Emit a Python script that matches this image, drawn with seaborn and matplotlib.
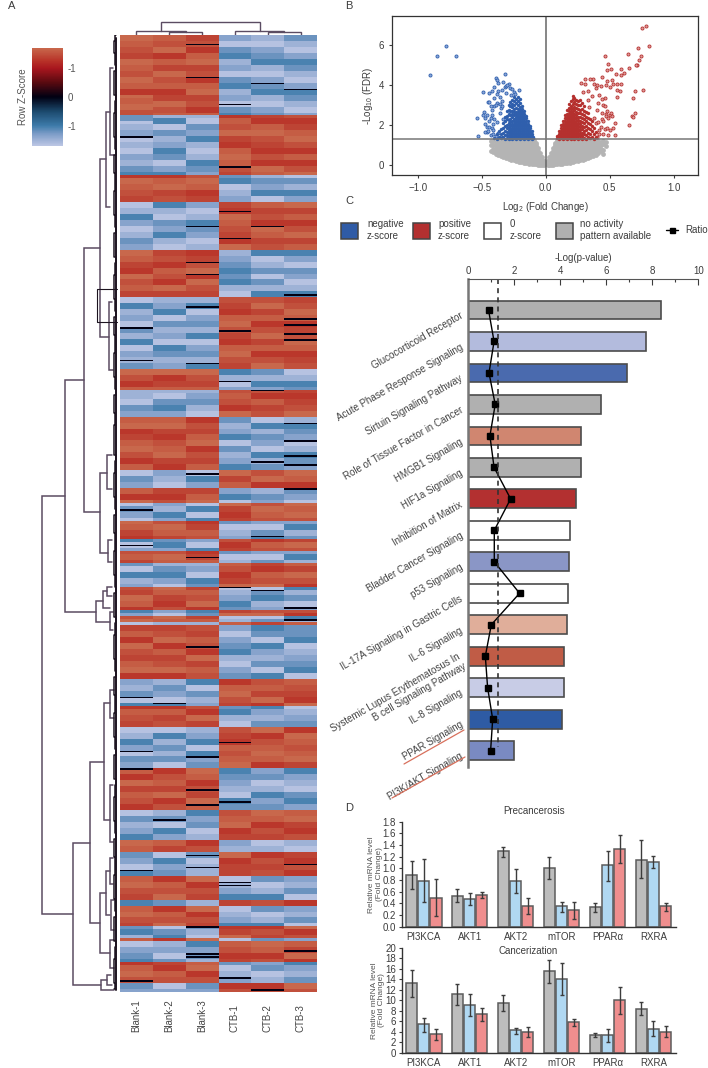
import matplotlib
matplotlib.use("Agg")
import matplotlib.pyplot as plt
from matplotlib.colors import LinearSegmentedColormap
from matplotlib.lines import Line2D
from matplotlib.patches import Rectangle
from matplotlib.ticker import MultipleLocator
import numpy as np
import pandas as pd
import seaborn as sns

# ==========================================
# PANEL A DATA (heatmap)
# ==========================================

SAMPLES = ["Blank-1", "Blank-2", "Blank-3", "CTB-1", "CTB-2", "CTB-3"]

# rows per gene cluster, clusters alternate Blank-high / Blank-low from the top
BLOCK_ROWS = [27, 20, 9, 16, 16, 24, 7, 9, 18, 6, 5, 6, 6, 4, 4, 8, 8, 2, 2, 1,
              18, 9, 7, 14, 14, 10, 4, 8, 8, 2, 7, 4, 1, 7, 7, 3]

# magnitude level of each row, 1 = weak ... 5 = strong
COL_BLANK_1 = (
    "5544332255443355441154455332254433554455"
    "3344221155443322554411335544223355442211"
    "5533442255114433552244115533442255331144"
    "4455223344551122445533114455223344115522"
    "3355442211553344225511443322554411335522"
    "4411553322445511334422551144332255441133"
    "5522334411552244331155224433115544223355"
    "1144553322114455332211445533221144553322"
)
COL_BLANK_2 = (
    "4433551144225533441122553344115522443311"
    "2255331144552233114455223311445522331144"
    "3311552244331155224433551122443355112244"
    "5522113344552211334455221133445522113344"
    "1133554422113355442211335544221133554422"
    "3355114422335511442233551144223355114422"
    "4422551133442255113344225511334422551133"
    "2211443355221144335522114433552211443355"
)
COL_BLANK_3 = (
    "2233114455223311445522331144552233114455"
    "4411223355441122335544112233554411223355"
    "1155332244115533224411553322441155332244"
    "3322445511332244551133224455113322445511"
    "5511224433551122443355112244335511224433"
    "2244331155224433115522443311552244331155"
    "1133225544113322554411332255441133225544"
    "4455113322445511332244551133224455113322"
)
COL_CTB_1 = (
    "3355221144335522114433552211443355221144"
    "5544332211554433221155443322115544332211"
    "2211445533221144553322114455332211445533"
    "4433115522443311552244331155224433115522"
    "1122554433112255443311225544331122554433"
    "5533221144553322114455332211445533221144"
    "3344551122334455112233445511223344551122"
    "2255443311225544331122554433112255443311"
)
COL_CTB_2 = (
    "4455332211445533221144553322114455332211"
    "3311554422331155442233115544223311554422"
    "5522441133552244113355224411335522441133"
    "1144223355114422335511442233551144223355"
    "4433552211443355221144335522114433552211"
    "2255113344225511334422551133442255113344"
    "5544113322554411332255441133225544113322"
    "3322554411332255441133225544113322554411"
)
COL_CTB_3 = (
    "2244553311224455331122445533112244553311"
    "4411335522441133552244113355224411335522"
    "3355441122335544112233554411223355441122"
    "1122335544112233554411223355441122335544"
    "5533114422553311442255331144225533114422"
    "2211554433221155443322115544332211554433"
    "4455221133445522113344552211334455221133"
    "1133442255113344225511334422551133442255"
)

# near-zero cells (dark lines in the map)
DARK_COL = [2, 2, 4, 5, 3, 0, 3, 3, 4, 2, 3, 2, 2, 5, 2, 5, 5, 0, 3, 5, 5, 0, 2, 3, 4,
            5, 5, 5, 4, 5, 2, 5, 0, 4, 0, 2, 3, 4, 5, 5, 2, 0, 1, 3, 0, 2, 0, 2, 3, 2,
            1, 2, 5, 2, 0, 3, 3, 2, 5, 2, 2, 0, 3, 4]
DARK_ROW = [3, 14, 16, 18, 23, 34, 44, 59, 64, 64, 68, 76, 80, 87, 91, 95, 97, 98, 99, 100,
            102, 109, 110, 116, 119, 130, 136, 141, 143, 144, 147, 152, 159, 168, 171, 175,
            185, 186, 192, 196, 205, 222, 224, 237, 240, 242, 246, 253, 257, 258, 263, 275,
            278, 279, 280, 284, 285, 299, 307, 308, 309, 317, 316, 320]

# left tree, in figure pixels: merge depth, top child, bottom child
TREE_X = [42, 64.5, 84, 100, 105.5, 109.5, 108.5, 100, 107, 108, 96, 103, 107, 110, 73, 90,
          104, 100, 106, 110, 111, 110, 109.5, 110, 101, 107]
TREE_Y_TOP = [496, 380, 248, 159, 112, 68, 302, 473, 455, 540, 601, 591, 587, 612, 843, 762,
              703, 893, 871, 858, 900, 940, 785, 690, 980, 975]
TREE_X_TOP = [64.5, 84, 100, 105.5, 109.5, 113, 112, 107, 112, 112, 103, 107, 112, 113, 90, 104,
              110, 106, 110, 113, 114, 114, 113, 114, 107, 111]
TREE_Y_BOT = [914, 612, 512, 337, 207, 155, 370, 553, 489, 562, 622, 608, 596, 630, 985, 923,
              820, 953, 915, 884, 930, 968, 842, 718, 990, 985]
TREE_X_BOT = [73, 96, 100, 108.5, 110, 114, 113, 108, 112, 112, 110, 110, 112, 113, 101, 100,
              109.5, 110, 110, 113, 114, 114, 113, 114, 114, 112]

# fine leaf level of the left tree, depth every 6 px from y=35
THICKET = (
    "2352413625314263524136251426352413625314"
    "2635241362514263524136251436253142635241"
    "3625142635241362531426352413625142635241"
    "3625314263524136251426352413625314263524"
)

# ==========================================
# PANEL B DATA (volcano)
# ==========================================

BLUE_SPARSE_X = [-0.90, -0.85, -0.78, -0.70, -0.32, -0.39, -0.38, -0.37, -0.33, -0.29, -0.49, -0.445,
                 -0.45, -0.44, -0.48, -0.49, -0.54, -0.525, -0.21, -0.47, -0.46, -0.44, -0.42, -0.41,
                 -0.46, -0.43, -0.40, -0.38, -0.36, -0.35, -0.43, -0.41, -0.39, -0.37, -0.35, -0.47,
                 -0.44, -0.42, -0.40, -0.38, -0.42, -0.40, -0.37, -0.34, -0.32, -0.36, -0.34, -0.31,
                 -0.47, -0.46, -0.45, -0.43, -0.42, -0.41, -0.40, -0.39, -0.38, -0.36, -0.34, -0.33,
                 -0.31, -0.30, -0.28, -0.27, -0.26, -0.25, -0.24]
BLUE_SPARSE_Y = [4.50, 5.45, 5.97, 5.45, 4.58, 4.34, 4.24, 4.09, 4.17, 4.05, 3.67, 3.59,
                 3.14, 3.14, 2.64, 2.51, 2.36, 1.48, 3.75, 2.35, 1.90, 1.90, 1.85, 1.75,
                 1.68, 2.35, 2.30, 2.15, 2.60, 2.85, 1.50, 1.55, 1.45, 1.60, 1.42, 1.68,
                 2.20, 2.75, 2.95, 3.10, 3.70, 3.90, 3.72, 3.78, 3.90, 3.40, 3.20, 3.60,
                 2.05, 2.50, 1.70, 2.95, 2.50, 2.05, 3.35, 3.00, 3.55, 3.05, 2.95, 2.30,
                 3.95, 4.00, 3.85, 3.50, 3.80, 3.65, 3.55]

BLUE_CORE = [
    (-0.095, [1.36, 1.44]),
    (-0.11, [1.34, 1.46, 1.58, 1.7]),
    (-0.125, [1.36, 1.48, 1.6, 1.72, 1.85, 1.96]),
    (-0.14, [1.34, 1.46, 1.58, 1.7, 1.82, 1.94, 2.06, 2.2]),
    (-0.155, [1.36, 1.48, 1.6, 1.72, 1.84, 1.96, 2.08, 2.2, 2.34, 2.48]),
    (-0.17, [1.34, 1.46, 1.58, 1.7, 1.82, 1.94, 2.06, 2.18, 2.3, 2.42, 2.54, 2.7]),
    (-0.185, [1.36, 1.48, 1.6, 1.72, 1.84, 1.96, 2.08, 2.2, 2.32, 2.44, 2.56, 2.68, 2.8, 2.94]),
    (-0.20, [1.34, 1.46, 1.58, 1.7, 1.82, 1.94, 2.06, 2.18, 2.3, 2.42, 2.54, 2.66, 2.78, 2.9, 3.1, 3.3]),
    (-0.215, [1.36, 1.48, 1.6, 1.72, 1.84, 1.96, 2.08, 2.2, 2.32, 2.44, 2.56, 2.68, 2.8, 3.0, 3.2, 3.42]),
    (-0.23, [1.34, 1.46, 1.58, 1.7, 1.82, 1.94, 2.06, 2.18, 2.3, 2.42, 2.54, 2.66, 2.86, 3.1, 3.32]),
    (-0.245, [1.36, 1.48, 1.6, 1.72, 1.84, 1.96, 2.08, 2.2, 2.32, 2.5, 2.65, 2.82, 3.0, 3.2, 3.4]),
    (-0.26, [1.34, 1.46, 1.58, 1.7, 1.82, 1.94, 2.06, 2.22, 2.4, 2.55, 2.72, 2.9, 3.08, 3.28]),
    (-0.275, [1.36, 1.48, 1.6, 1.72, 1.86, 2.0, 2.15, 2.32, 2.5, 2.7, 2.95, 3.15]),
    (-0.29, [1.34, 1.46, 1.6, 1.76, 1.92, 2.1, 2.28, 2.55, 2.75, 3.0]),
    (-0.305, [1.38, 1.5, 1.68, 1.86, 2.0, 2.3, 2.45, 2.7]),
    (-0.32, [1.34, 1.52, 1.72, 1.95, 2.2, 2.42]),
    (-0.335, [1.4, 1.6, 1.85, 2.1]),
    (-0.35, [1.36, 1.55, 1.8]),
    (-0.365, [1.42, 1.7]),
    (-0.38, [1.34, 1.58]),
    (-0.40, [1.36]),
]

RED_SPARSE_X = [0.785, 0.75, 0.81, 0.72, 0.645, 0.745, 0.73, 0.71, 0.705, 0.46, 0.49, 0.51, 0.48, 0.59,
                0.65, 0.55, 0.61, 0.59, 0.44, 0.37, 0.31, 0.275, 0.52, 0.48, 0.56, 0.59, 0.525, 0.555,
                0.70, 0.76, 0.58, 0.555, 0.685, 0.70, 0.675, 0.68, 0.65, 0.545, 0.49, 0.54, 0.50, 0.46,
                0.44, 0.47, 0.50, 0.45, 0.42, 0.43, 0.47, 0.41, 0.46, 0.44, 0.48, 0.40, 0.42, 0.39,
                0.33, 0.34, 0.35, 0.36, 0.38, 0.40, 0.41, 0.42, 0.43, 0.44, 0.45, 0.45, 0.46, 0.47,
                0.48, 0.49, 0.50, 0.51, 0.52, 0.53, 0.38, 0.39, 0.40, 0.31, 0.29, 0.33]
RED_SPARSE_Y = [6.96, 6.83, 5.96, 5.83, 5.55, 5.46, 5.28, 5.03, 5.02, 5.46, 5.08, 4.83, 4.78, 4.83,
                4.87, 4.55, 4.62, 4.50, 4.42, 4.30, 4.32, 4.09, 4.25, 4.20, 4.05, 4.05, 4.05, 3.75,
                3.72, 3.75, 3.72, 3.42, 3.37, 2.60, 2.46, 2.40, 2.00, 2.09, 1.50, 1.50, 1.75, 1.80,
                2.60, 2.55, 2.50, 3.00, 3.50, 3.95, 4.00, 3.10, 3.35, 2.30, 2.70, 1.40, 1.75, 2.10,
                3.70, 2.90, 4.30, 3.45, 2.35, 2.75, 2.15, 1.55, 1.90, 3.30, 2.20, 1.55, 2.95, 2.45,
                1.85, 2.35, 3.90, 2.60, 2.45, 1.85, 4.05, 3.85, 4.00, 4.05, 3.65, 3.25]

RED_CORE = [
    (0.09, [1.36, 1.46]),
    (0.105, [1.34, 1.46, 1.58, 1.72]),
    (0.12, [1.36, 1.48, 1.6, 1.72, 1.84, 2.0]),
    (0.135, [1.34, 1.46, 1.58, 1.7, 1.82, 1.94, 2.06, 2.2]),
    (0.15, [1.36, 1.48, 1.6, 1.72, 1.84, 1.96, 2.08, 2.2, 2.35, 2.5]),
    (0.165, [1.34, 1.46, 1.58, 1.7, 1.82, 1.94, 2.06, 2.18, 2.3, 2.42, 2.56, 2.75]),
    (0.18, [1.36, 1.48, 1.6, 1.72, 1.84, 1.96, 2.08, 2.2, 2.32, 2.44, 2.56, 2.7, 2.85, 3.05]),
    (0.195, [1.34, 1.46, 1.58, 1.7, 1.82, 1.94, 2.06, 2.18, 2.3, 2.42, 2.54, 2.66, 2.8, 2.96, 3.2]),
    (0.21, [1.36, 1.48, 1.6, 1.72, 1.84, 1.96, 2.08, 2.2, 2.32, 2.44, 2.56, 2.7, 2.85, 3.05, 3.3, 3.45]),
    (0.225, [1.34, 1.46, 1.58, 1.7, 1.82, 1.94, 2.06, 2.18, 2.3, 2.42, 2.58, 2.75, 2.92, 3.15, 3.38]),
    (0.24, [1.36, 1.48, 1.6, 1.72, 1.84, 1.96, 2.08, 2.2, 2.35, 2.5, 2.68, 2.85, 3.05, 3.25]),
    (0.255, [1.34, 1.46, 1.58, 1.7, 1.82, 1.96, 2.1, 2.25, 2.42, 2.6, 2.8, 3.0, 3.2]),
    (0.27, [1.36, 1.5, 1.62, 1.76, 1.9, 2.05, 2.2, 2.4, 2.6, 2.75, 3.0, 3.25]),
    (0.285, [1.34, 1.48, 1.62, 1.8, 1.98, 2.15, 2.35, 2.55, 2.8, 3.1]),
    (0.30, [1.38, 1.55, 1.72, 1.9, 2.1, 2.3, 2.5, 2.7, 2.95]),
    (0.315, [1.34, 1.52, 1.75, 1.95, 2.2, 2.42, 2.65]),
    (0.33, [1.42, 1.6, 1.85, 2.1, 2.35, 2.6]),
    (0.345, [1.36, 1.55, 1.8, 2.05, 2.3]),
    (0.36, [1.42, 1.7, 1.95, 2.2]),
    (0.375, [1.34, 1.58, 1.85]),
    (0.39, [1.4, 1.65]),
]

GRAY_CORE = [
    (-0.015, [0.02, 0.12, 0.2]), (0.015, [0.02, 0.12, 0.2]),
    (-0.03, [0.03, 0.15, 0.28, 0.42]), (0.03, [0.03, 0.15, 0.28, 0.42]),
    (-0.045, [0.03, 0.16, 0.3, 0.45, 0.6]), (0.045, [0.03, 0.16, 0.3, 0.45, 0.6]),
    (-0.06, [0.04, 0.18, 0.3, 0.44, 0.58, 0.72, 0.86]), (0.06, [0.04, 0.18, 0.3, 0.44, 0.58, 0.72, 0.86]),
    (-0.075, [0.05, 0.2, 0.34, 0.48, 0.62, 0.76, 0.9, 1.04, 1.14]),
    (0.075, [0.05, 0.2, 0.34, 0.48, 0.62, 0.76, 0.9, 1.04, 1.14]),
    (-0.09, [0.06, 0.22, 0.36, 0.5, 0.64, 0.78, 0.92, 1.06, 1.18, 1.27]),
    (0.09, [0.06, 0.22, 0.36, 0.5, 0.64, 0.78, 0.92, 1.06, 1.18, 1.27]),
    (-0.11, [0.07, 0.22, 0.38, 0.52, 0.66, 0.8, 0.94, 1.08, 1.22]),
    (0.11, [0.07, 0.22, 0.38, 0.52, 0.66, 0.8, 0.94, 1.08, 1.22]),
    (-0.13, [0.08, 0.24, 0.38, 0.52, 0.66, 0.8, 0.94, 1.08, 1.24]),
    (0.13, [0.08, 0.24, 0.38, 0.52, 0.66, 0.8, 0.94, 1.08, 1.24]),
    (-0.15, [0.1, 0.24, 0.38, 0.52, 0.66, 0.8, 0.94, 1.08, 1.24]),
    (0.15, [0.1, 0.24, 0.38, 0.52, 0.66, 0.8, 0.94, 1.08, 1.24]),
    (-0.17, [0.12, 0.26, 0.4, 0.54, 0.68, 0.82, 0.96, 1.1, 1.25]),
    (0.17, [0.11, 0.26, 0.4, 0.54, 0.68, 0.82, 0.96, 1.1, 1.25]),
    (-0.19, [0.15, 0.28, 0.42, 0.56, 0.7, 0.84, 0.98, 1.12, 1.26]),
    (0.19, [0.14, 0.28, 0.42, 0.56, 0.7, 0.84, 0.98, 1.12, 1.26]),
    (-0.21, [0.18, 0.3, 0.44, 0.58, 0.72, 0.86, 1.0, 1.14, 1.26]),
    (0.21, [0.17, 0.3, 0.44, 0.58, 0.72, 0.86, 1.0, 1.14, 1.26]),
    (-0.23, [0.21, 0.34, 0.48, 0.62, 0.76, 0.9, 1.04, 1.18]),
    (0.23, [0.2, 0.34, 0.48, 0.62, 0.76, 0.9, 1.04, 1.18]),
    (-0.25, [0.25, 0.38, 0.52, 0.66, 0.8, 0.94, 1.08, 1.22]),
    (0.25, [0.23, 0.36, 0.5, 0.64, 0.78, 0.92, 1.06, 1.2]),
    (-0.27, [0.29, 0.42, 0.56, 0.7, 0.84, 0.98, 1.12, 1.26]),
    (0.27, [0.26, 0.4, 0.54, 0.68, 0.82, 0.96, 1.1, 1.24]),
    (-0.29, [0.33, 0.46, 0.6, 0.74, 0.88, 1.02, 1.16, 1.27]),
    (0.29, [0.29, 0.42, 0.56, 0.7, 0.84, 0.98, 1.12, 1.26]),
    (-0.31, [0.38, 0.52, 0.66, 0.8, 0.94, 1.08, 1.22]),
    (0.31, [0.32, 0.46, 0.6, 0.74, 0.88, 1.02, 1.16, 1.27]),
    (-0.33, [0.43, 0.56, 0.7, 0.84, 0.98, 1.12, 1.26]),
    (0.33, [0.36, 0.5, 0.64, 0.78, 0.92, 1.06, 1.2]),
    (-0.35, [0.48, 0.62, 0.76, 0.9, 1.04, 1.18]),
    (0.35, [0.42, 0.56, 0.7, 0.84, 0.98, 1.12, 1.26]),
    (-0.37, [0.53, 0.68, 0.82, 0.96, 1.1, 1.24]),
    (0.37, [0.48, 0.62, 0.76, 0.9, 1.04, 1.18]),
    (-0.39, [0.58, 0.72, 0.88, 1.02, 1.18]),
    (0.39, [0.53, 0.68, 0.82, 0.96, 1.1, 1.24]),
    (-0.41, [0.65, 0.82, 1.0, 1.2]),
    (0.41, [0.6, 0.74, 0.9, 1.06, 1.2]),
    (-0.43, [0.7, 1.0, 1.22]),
    (0.43, [0.7, 0.82, 1.02, 1.18]),
    (0.45, [0.55, 0.78, 1.05, 1.2]),
    (0.47, [0.95, 1.18]),
]

# ==========================================
# PANEL C DATA (pathways)
# ==========================================

PATHWAYS = [
    "Glucocorticoid Receptor", "Acute Phase Response Signaling", "Sirtuin Signaling Pathway",
    "Role of Tissue Factor in Cancer", "HMGB1 Signaling", "HIF1a Signaling", "Inhibition of Matrix",
    "Bladder Cancer Signaling", "p53 Signaling", "IL-17A Signaling in Gastric Cells", "IL-6 Signaling",
    "Systemic Lupus Erythematosus In\nB cell Signaling Pathway", "IL-8 Signaling", "PPAR Signaling",
    "PI3K/AKT Signaling",
]
LOG_P = [8.36, 7.72, 6.88, 5.75, 4.88, 4.88, 4.67, 4.42, 4.36, 4.35, 4.30, 4.17, 4.16, 4.07, 1.98]
RATIO = [0.88, 1.12, 0.90, 1.17, 0.94, 1.12, 1.84, 1.13, 1.13, 2.23, 1.00, 0.74, 0.84, 1.06, 0.97]
PATH_COLORS = ["#B0B0B0", "#B3BBDD", "#4A6AAE", "#B0B0B0", "#D08670", "#B0B0B0", "#B33030", "#FFFFFF",
               "#8A96C6", "#FFFFFF", "#E0AE9A", "#C05C46", "#C8CCE6", "#2E5BA4", "#7A8AC2"]
THRESHOLD = 1.3

LEGEND_LABELS = ["negative\nz-score", "positive\nz-score", "0\nz-score", "no activity\npattern available"]
LEGEND_COLORS = ["#2F5BA6", "#B33030", "#FFFFFF", "#B0B0B0"]

# ==========================================
# PANEL D DATA (qPCR)
# ==========================================

GENES = ["PI3KCA", "AKT1", "AKT2", "mTOR", "PPARα", "RXRA"]
GROUPS = ["Blank", "Low", "High"]
BAR_COLORS = ["#BDBDBD", "#B0D8F2", "#EF8E8E"]

PRE_MEAN = [[0.89, 0.53, 1.29, 1.00, 0.34, 1.15],
            [0.79, 0.48, 0.78, 0.35, 1.05, 1.11],
            [0.50, 0.55, 0.35, 0.29, 1.34, 0.35]]
PRE_HIGH = [[1.13, 0.64, 1.37, 1.19, 0.41, 1.48],
            [1.16, 0.58, 0.99, 0.43, 1.30, 1.22],
            [0.81, 0.60, 0.49, 0.43, 1.58, 0.41]]
PRE_LOW = [[0.64, 0.42, 1.20, 0.81, 0.26, 0.83],
           [0.42, 0.38, 0.57, 0.26, 0.79, 1.00],
           [0.18, 0.50, 0.21, 0.14, 1.10, 0.27]]

CAN_MEAN = [[13.3, 11.1, 9.5, 15.5, 3.3, 8.4],
            [5.4, 9.1, 4.25, 14.0, 3.4, 4.6],
            [3.6, 7.3, 3.9, 5.8, 10.0, 4.0]]
CAN_HIGH = [[15.7, 13.0, 11.0, 17.7, 3.7, 9.6],
            [6.6, 11.1, 4.8, 17.1, 4.6, 6.0],
            [4.6, 8.6, 4.9, 6.5, 12.6, 5.1]]
CAN_LOW = [[10.7, 9.0, 7.9, 13.2, 2.9, 7.1],
           [4.0, 7.0, 3.6, 10.9, 2.1, 3.2],
           [2.5, 6.0, 3.0, 5.0, 7.4, 2.9]]

# ==========================================
# FIGURE SETUP
# ==========================================

W, H = 708, 1068
TEXT = "#3c3c3c"

sns.set_theme(style="white")
plt.rcParams["font.family"] = ["Liberation Sans", "DejaVu Sans"]
plt.rcParams["mathtext.default"] = "regular"
plt.rcParams["mathtext.fontset"] = "custom"
plt.rcParams["mathtext.rm"] = "Liberation Sans"
plt.rcParams["text.color"] = TEXT
plt.rcParams["axes.labelcolor"] = TEXT
plt.rcParams["xtick.color"] = TEXT
plt.rcParams["ytick.color"] = TEXT

fig = plt.figure(figsize=(W / 100, H / 100), dpi=100)


def px_axes(x0, y0, x1, y1):
    return fig.add_axes([x0 / W, 1 - y1 / H, (x1 - x0) / W, (y1 - y0) / H])


def fig_text(x, y, s, **kw):
    kw.setdefault("fontsize", 7)
    fig.text(x / W, 1 - y / H, s, **kw)


for letter, lx, ly in [("A", 12, 6), ("B", 349, 6), ("C", 349, 201), ("D", 349, 808)]:
    fig_text(lx, ly, letter, fontsize=8, ha="center", va="center")

# ==========================================
# PANEL A
# ==========================================

cmap = LinearSegmentedColormap.from_list("zscore", [
    (0.0, "#BCC6E4"), (0.12, "#7E9DC8"), (0.206, "#3D7BAA"), (0.35, "#1C4A6E"), (0.5, "#000012"),
    (0.65, "#5A0A10"), (0.794, "#A8161E"), (0.87, "#B83228"), (1.0, "#C8684C"),
])

n_rows = sum(BLOCK_ROWS)
columns = [COL_BLANK_1, COL_BLANK_2, COL_BLANK_3, COL_CTB_1, COL_CTB_2, COL_CTB_3]
levels = np.array([[int(c) for c in col.ljust(n_rows, "3")[:n_rows]] for col in columns]).T
signs = np.repeat([1 if i % 2 == 0 else -1 for i in range(len(BLOCK_ROWS))], BLOCK_ROWS)

z = np.zeros(levels.shape)
for j in range(6):
    side = signs if j < 3 else -signs
    high = 1.2 + 0.1 * levels[:, j]
    low = -(0.9 + 0.15 * levels[:, j])
    z[:, j] = np.where(side > 0, high, low)

# two sub-rows per row so that the near-zero cells stay thin
z = np.repeat(z, 2, axis=0)
z[np.array(DARK_ROW) * 2, DARK_COL] = 0.0

ax_heat = px_axes(120, 35, 317, 992)
ax_cbar = px_axes(32, 48, 63, 146)
sns.heatmap(
    pd.DataFrame(z, columns=SAMPLES),
    cmap=cmap,
    vmin=-1.7,
    vmax=1.7,
    xticklabels=False,
    yticklabels=False,
    ax=ax_heat,
    cbar_ax=ax_cbar,
)
ax_heat.set_ylabel("")

ax_cbar.set_yticks([1, 0, -1], ["-1", "0", "-1"], fontsize=7, color="#555555")
ax_cbar.tick_params(length=0, pad=3)
for spine in ax_cbar.spines.values():
    spine.set_visible(False)
fig_text(22.5, 97, "Row Z-Score", rotation=90, ha="center", va="center", color="#555555")

for i, name in enumerate(SAMPLES):
    fig_text(136.4 + i * 32.83, 1032, name, rotation=90, ha="center", va="bottom", color="#444444")

ax_left = px_axes(0, 35, 120, 992)
ax_left.set_xlim(0, 120)
ax_left.set_ylim(992, 35)
ax_left.axis("off")
TREE_COLOR = "#5b4c62"
for mx, yt, xt, yb, xb in zip(TREE_X, TREE_Y_TOP, TREE_X_TOP, TREE_Y_BOT, TREE_X_BOT):
    ax_left.plot([xt, mx, mx, xb], [yt, yt, yb, yb], color=TREE_COLOR, lw=1.1, solid_joinstyle="miter")
ax_left.plot([117, 97, 97, 117], [289, 289, 322, 322], color="#1d1420", lw=0.8)

thicket_depth = np.array([int(c) for c in THICKET])
thicket_y = 35 + 6 * np.arange(len(thicket_depth))
ax_left.step(117 - 0.75 * thicket_depth, thicket_y, where="mid", color="#1d1420", lw=1.1)
ax_left.plot([116, 116], [38, 990], color="#1d1420", lw=1.4)

ax_top = px_axes(120, 20, 317, 35)
ax_top.set_xlim(0, 6)
ax_top.set_ylim(0, 15)
ax_top.axis("off")
for xs, ys in [([0.5, 0.5, 2.0, 2.0], [0, 4, 4, 3]),
               ([1.5, 1.5, 2.5, 2.5], [0, 3, 3, 0]),
               ([3.5, 3.5, 5.0, 5.0], [0, 4, 4, 3]),
               ([4.5, 4.5, 5.5, 5.5], [0, 3, 3, 0]),
               ([1.25, 1.25, 4.25, 4.25], [4, 13, 13, 4])]:
    ax_top.plot(xs, ys, color=TREE_COLOR, lw=1.0, solid_joinstyle="miter")

# ==========================================
# PANEL B
# ==========================================


def flatten(cols):
    xs = [x for x, ys in cols for _ in ys]
    ys = [y for _, col in cols for y in col]
    return xs, ys


ax_b = px_axes(392, 16, 698, 175)
gray_x, gray_y = flatten(GRAY_CORE)
blue_x, blue_y = flatten(BLUE_CORE)
red_x, red_y = flatten(RED_CORE)

sns.scatterplot(x=gray_x, y=gray_y, color="#B4B4B4", s=12, linewidth=0, ax=ax_b)
sns.scatterplot(x=BLUE_SPARSE_X, y=BLUE_SPARSE_Y, color="#8CA8DA", edgecolor="#2F5FAD", s=5, linewidth=0.6, ax=ax_b)
sns.scatterplot(x=blue_x, y=blue_y, color="#2F5FAD", s=6, linewidth=0, ax=ax_b)
sns.scatterplot(x=RED_SPARSE_X, y=RED_SPARSE_Y, color="#E09A9A", edgecolor="#B5302E", s=5, linewidth=0.6, ax=ax_b)
sns.scatterplot(x=red_x, y=red_y, color="#B5302E", s=6, linewidth=0, ax=ax_b)
ax_b.axvline(0, color="#666666", lw=1.1)
ax_b.axhline(THRESHOLD, color="#777777", lw=1.1)
ax_b.set_xlim(-1.2, 1.19)
ax_b.set_ylim(-0.48, 7.45)
ax_b.set_xticks([-1.0, -0.5, 0.0, 0.5, 1.0])
ax_b.set_yticks([0, 2, 4, 6])
ax_b.tick_params(labelsize=7, length=2.5, width=0.8, pad=3, bottom=True, left=True)
for spine in ax_b.spines.values():
    spine.set_color("#333333")
    spine.set_linewidth(0.9)
ax_b.set_xlabel("Log$_2$ (Fold Change)", fontsize=7, labelpad=5)
ax_b.set_ylabel("-Log$_{10}$ (FDR)", fontsize=7, labelpad=3)

# ==========================================
# PANEL C
# ==========================================

for sx, tx, label, color in zip([341, 413, 484, 556], [367, 438, 510, 580], LEGEND_LABELS, LEGEND_COLORS):
    fig.add_artist(Rectangle((sx / W, 1 - 239 / H), 17 / W, 16 / H, facecolor=color, edgecolor="#444444",
                             lw=1.1, transform=fig.transFigure))
    fig_text(tx, 230.5, label, ha="left", va="center", linespacing=1.25)
fig.add_artist(Line2D([666 / W, 678 / W], [1 - 230 / H, 1 - 230 / H], color="black", lw=1,
                      transform=fig.transFigure))
fig.add_artist(Line2D([672 / W], [1 - 230 / H], color="black", marker="s", ms=3.6,
                      transform=fig.transFigure))
fig_text(685, 230, "Ratio", ha="left", va="center")

ax_c = px_axes(468.3, 279, 698.3, 767)
sns.barplot(
    y=PATHWAYS,
    x=LOG_P,
    hue=PATHWAYS,
    palette=PATH_COLORS,
    saturation=1,
    legend=False,
    orient="h",
    width=0.594,
    edgecolor="#4c4c4c",
    linewidth=1.2,
    ax=ax_c,
)
ax_c.set_xlim(0, 10)
ax_c.set_ylim(14.52, -0.985)
ax_c.xaxis.tick_top()
ax_c.xaxis.set_label_position("top")
ax_c.set_xticks([0, 2, 4, 6, 8, 10])
ax_c.xaxis.set_minor_locator(MultipleLocator(1))
ax_c.tick_params(axis="x", which="major", direction="in", length=4, width=0.8, labelsize=7, pad=2, top=True)
ax_c.tick_params(axis="x", which="minor", direction="in", length=2.5, width=0.8, top=True)
ax_c.tick_params(axis="y", direction="in", length=4, width=0.8, left=True, labelleft=False)
ax_c.set_xlabel("-Log(p-value)", fontsize=7, labelpad=4)
ax_c.spines["right"].set_visible(False)
ax_c.spines["bottom"].set_visible(False)
ax_c.spines["top"].set_color("#555555")
ax_c.spines["top"].set_linewidth(0.8)
ax_c.spines["left"].set_color("#777777")
ax_c.spines["left"].set_linewidth(1.8)

for i, name in enumerate(PATHWAYS):
    ax_c.annotate(
        name,
        xy=(0, i),
        xycoords=("axes fraction", "data"),
        xytext=(-4.5, -3.5),
        textcoords="offset points",
        rotation=30,
        rotation_mode="anchor",
        ha="right",
        va="center",
        multialignment="right",
        fontsize=7,
        color="#444444",
        annotation_clip=False,
    )

ax_c.plot(RATIO, range(len(RATIO)), color="black", lw=1, marker="s", ms=3.7)
ax_c.plot([THRESHOLD, THRESHOLD], [-0.985, 13.9], color="#333333", lw=1.2, ls=(0, (3, 2.5)))

for x0, y0, x1, y1 in [(404, 764, 464, 730), (392, 798, 465, 757)]:
    fig.add_artist(Line2D([x0 / W, x1 / W], [1 - y0 / H, 1 - y1 / H], color="#D8705C", lw=0.9,
                          transform=fig.transFigure))

# ==========================================
# PANEL D
# ==========================================


def draw_qpcr(box, means, highs, lows, ymax, step, title, title_x, title_y):
    ax = px_axes(*box)
    table = pd.DataFrame({
        "gene": GENES * 3,
        "group": [g for g in GROUPS for _ in GENES],
        "value": np.ravel(means),
    })
    sns.barplot(
        data=table,
        x="gene",
        y="value",
        hue="group",
        palette=BAR_COLORS,
        saturation=1,
        legend=False,
        width=0.8,
        gap=0.1,
        edgecolor="#5c5c5c",
        linewidth=1.1,
        errorbar=None,
        ax=ax,
    )
    for container, mean, high, low in zip(ax.containers, means, highs, lows):
        centers = [p.get_x() + p.get_width() / 2 for p in container]
        ax.errorbar(
            centers,
            mean,
            yerr=[np.array(mean) - np.array(low), np.array(high) - np.array(mean)],
            fmt="none",
            ecolor="#3c3c3c",
            elinewidth=1,
            capsize=1.7,
            capthick=1,
        )
    ax.set_xlim(-0.48, 5.49)
    ax.set_ylim(0, ymax)
    ax.yaxis.set_major_locator(MultipleLocator(step))
    ax.tick_params(axis="y", length=2.5, width=0.8, labelsize=7, pad=1.5, left=True)
    ax.tick_params(axis="x", length=0, labelsize=7, pad=4)
    ax.set_xlabel("")
    ax.set_ylabel("Relative mRNA level\n(Fold Change)", fontsize=6, labelpad=0, linespacing=1.15, color="#555555")
    sns.despine(ax=ax)
    for side in ["left", "bottom"]:
        ax.spines[side].set_color("#333333")
        ax.spines[side].set_linewidth(1.0)
    fig_text(title_x, title_y, title, ha="center", va="center")
    return ax


draw_qpcr((401.7, 821.7, 676, 926.7), PRE_MEAN, PRE_HIGH, PRE_LOW, 1.8, 0.2, "Precancerosis", 534, 811)
draw_qpcr((401.7, 947.7, 676, 1052.7), CAN_MEAN, CAN_HIGH, CAN_LOW, 20, 2, "Cancerization", 528, 951)

plt.savefig("out.png", dpi=100)
plt.close()
